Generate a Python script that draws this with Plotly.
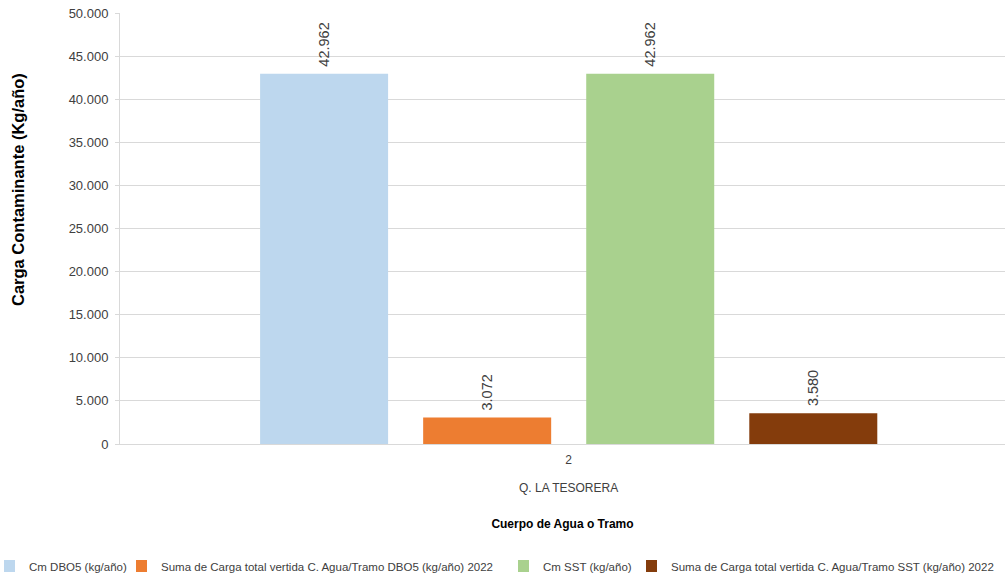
import plotly.graph_objects as go

categories = ["2"]
group_label = "Q. LA TESORERA"
series_names = [
    "Cm DBO5 (kg/año)",
    "Suma de Carga total vertida C. Agua/Tramo DBO5 (kg/año) 2022",
    "Cm SST (kg/año)",
    "Suma de Carga total vertida C. Agua/Tramo SST (kg/año) 2022",
]
series_values = [[42962], [3072], [42962], [3580]]
series_colors = ["#BDD7EE", "#ED7D31", "#A9D18E", "#843C0C"]
y_ticks = [0, 5000, 10000, 15000, 20000, 25000, 30000, 35000, 40000, 45000, 50000]

BASE = "Liberation Sans, Arial, sans-serif"
W, H = 1005, 575
legend_ids = ["legend", "legend2", "legend3", "legend4"]
legend_left_px = [4, 136, 518, 646]

fig = go.Figure()
for name, vals, col, lid in zip(series_names, series_values, series_colors, legend_ids):
    fig.add_trace(go.Bar(
        x=categories, y=vals, name=name, legend=lid,
        marker=dict(color=col, line=dict(width=0)),
        texttemplate="\u00a0%{y:,.0f}", textposition="outside", textangle=-90,
        textfont=dict(family=BASE, size=14.5, color="#404040"),
        cliponaxis=False,
    ))

legend_style = dict(
    orientation="h", xanchor="left", xref="container",
    y=1 - 566 / H, yanchor="middle", yref="container",
    font=dict(family=BASE, size=11.5, color="#404040"),
    itemwidth=30, indentation=-15,
    bgcolor="rgba(0,0,0,0)", borderwidth=0,
)
legend_layout = {}
for lid, lx in zip(legend_ids, legend_left_px):
    legend_layout[lid] = dict(legend_style, x=lx / W)

fig.update_layout(
    width=W, height=H,
    margin=dict(l=120, r=0, t=13, b=131, autoexpand=False),
    paper_bgcolor="white", plot_bgcolor="white",
    separators=",.",
    barmode="group", bargap=0.263, bargroupgap=0.215,
    font=dict(family=BASE, size=12, color="#404040"),
    showlegend=True,
    **legend_layout,
    xaxis=dict(
        type="category", range=[-0.507, 0.493], automargin=False,
        showgrid=False, showline=True, linecolor="#D9D9D9", linewidth=1,
        ticks="", ticklabelstandoff=5,
        tickfont=dict(family=BASE, size=12, color="#404040"),
        title=dict(text="<b>Cuerpo de Agua o Tramo</b>", standoff=53,
                   font=dict(family=BASE, size=12, color="#000000")),
    ),
    yaxis=dict(
        range=[0, 50000], tickvals=y_ticks, tickformat=",.0f", automargin=False,
        showgrid=True, gridcolor="#D9D9D9", gridwidth=1,
        showline=True, linecolor="#D9D9D9", linewidth=1,
        ticks="outside", ticklen=4, tickcolor="#D9D9D9",
        tickfont=dict(family=BASE, size=13, color="#404040"),
        ticklabelstandoff=4,
        zeroline=False,
    ),
)

# y-axis title (placed above centre, as in the reference)
fig.add_annotation(
    x=0, xref="paper", xshift=-102, y=(444 - 190) / 431, yref="paper",
    text="<b>Carga Contaminante (Kg/año)</b>", textangle=-90, showarrow=False,
    xanchor="center", yanchor="middle",
    font=dict(family=BASE, size=16.5, color="#000000"),
)

fig.add_annotation(
    x=0, xref="x", y=0, yref="paper", yshift=-44,
    text=group_label, showarrow=False, yanchor="middle",
    font=dict(family=BASE, size=12, color="#404040"),
)

fig.write_html("out.html", config={"displayModeBar": False},
               post_script="document.body.style.margin='0';")
